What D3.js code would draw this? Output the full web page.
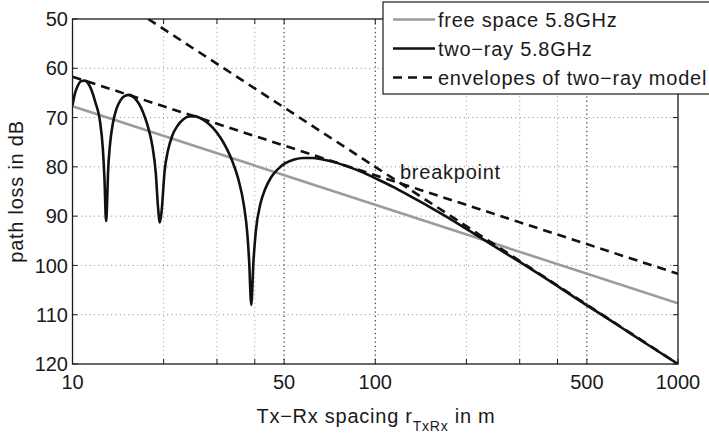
<!DOCTYPE html>
<html>
<head>
<meta charset="utf-8">
<script src="https://cdn.jsdelivr.net/npm/d3@7"></script>
<style>
  html, body { margin: 0; padding: 0; background: #fff; }
  svg { display: block; }
  text { font-family: "Liberation Sans", Arial, Helvetica, sans-serif; fill: #1a1a1a; }
  .wide { letter-spacing: 0.75px; }
</style>
</head>
<body>
<svg id="chart" width="709" height="436"></svg>
<script>
// ---- data ----
const xTicksMajor = [10, 50, 100, 500, 1000];
const xTicksMinor = [20, 30, 40, 200, 300, 400];
const yTicks = [50, 60, 70, 80, 90, 100, 110, 120];

const freeSpaceDist = [10, 1000];
const freeSpaceLoss = [67.7, 107.7];

const envUpperDist = [10, 1000];
const envUpperLoss = [61.7, 101.7];

const envLowerDist = [17.78, 1000];
const envLowerLoss = [50, 120];

const twoRayDist = [10, 10.2, 10.4, 10.7, 11.0, 11.3, 11.6, 11.9, 12.3, 12.6,
  12.75, 12.91, 13.0, 13.1, 13.3, 13.6, 14.0, 14.4, 14.9, 15.4,
  15.9, 16.5, 17.1, 17.7, 18.35, 18.85, 19.15, 19.43, 19.7, 20.15,
  20.65, 21.35, 22.2, 23.2, 24.2, 25.2, 26.2, 27.7, 29.2, 30.75,
  32.25, 33.75, 35.3, 36.8, 37.8, 38.3, 38.95, 39.6, 40.3, 41.8,
  43.3, 45.3, 47.8, 50, 54, 58, 62, 67, 73, 80,
  90, 100, 115, 130, 150, 175, 200, 250, 300, 400,
  500, 600, 700, 800, 1000];
const twoRayLoss = [67.5, 65.0, 63.6, 62.6, 62.5, 63.2, 64.7, 66.9, 70.4, 76.4,
  82.3, 91.0, 87.9, 81.4, 75.5, 71.1, 68.1, 66.5, 65.6, 65.4,
  65.8, 67.0, 68.9, 71.6, 75.7, 81.4, 87.9, 91.3, 88.9, 80.8,
  76.8, 73.7, 71.7, 70.4, 69.8, 69.7, 70.0, 70.9, 72.2, 74.0,
  76.2, 78.9, 82.5, 87.7, 93.6, 98.8, 108.0, 99.2, 93.2, 87.4,
  84.5, 82.1, 80.4, 79.4, 78.5, 78.2, 78.2, 78.5, 79.0, 79.8,
  81.0, 82.3, 84.1, 85.9, 88.0, 90.4, 92.6, 96.3, 99.3, 104.2,
  108.1, 111.2, 113.9, 116.2, 120.0];

const legendLabels = ["free space 5.8GHz", "two\u2212ray 5.8GHz", "envelopes of two\u2212ray model"];

// ---- layout ----
const L = 72.5, R = 678, T = 19, B = 364;
const svg = d3.select("#chart");
const x = d3.scaleLog().domain([10, 1000]).range([L, R]);
const y = d3.scaleLinear().domain([50, 120]).range([T, B]);

const zip = (a, b) => a.map((v, i) => [v, b[i]]);

svg.append("defs").append("clipPath").attr("id", "plotclip")
  .append("rect").attr("x", L).attr("y", T).attr("width", R - L).attr("height", B - T);

// grid
const grid = svg.append("g");
grid.selectAll(".hg").data(yTicks.slice(1, -1)).enter().append("line")
  .attr("x1", L).attr("x2", R).attr("y1", d => y(d)).attr("y2", d => y(d))
  .attr("stroke", "#8a8a8a").attr("stroke-width", 1).attr("stroke-dasharray", "1,3.3");
grid.selectAll(".vgm").data(xTicksMinor).enter().append("line")
  .attr("x1", d => x(d)).attr("x2", d => x(d)).attr("y1", T).attr("y2", B)
  .attr("stroke", "#9a9a9a").attr("stroke-width", 1).attr("stroke-dasharray", "1,3.3");
grid.selectAll(".vgM").data(xTicksMajor.slice(1, -1)).enter().append("line")
  .attr("x1", d => x(d)).attr("x2", d => x(d)).attr("y1", T).attr("y2", B)
  .attr("stroke", "#111").attr("stroke-width", 1).attr("stroke-dasharray", "1.3,3");

// lines
const plot = svg.append("g").attr("clip-path", "url(#plotclip)");
const straight = d3.line().x(d => x(d[0])).y(d => y(d[1]));
const smooth = d3.line().x(d => x(d[0])).y(d => y(d[1])).curve(d3.curveMonotoneX);

plot.append("path").datum(zip(freeSpaceDist, freeSpaceLoss)).attr("d", straight)
  .attr("fill", "none").attr("stroke", "#9b9b9b").attr("stroke-width", 2.6);
plot.append("path").datum(zip(envUpperDist, envUpperLoss)).attr("d", straight)
  .attr("fill", "none").attr("stroke", "#111").attr("stroke-width", 2.6).attr("stroke-dasharray", "9,6");
plot.append("path").datum(zip(envLowerDist, envLowerLoss)).attr("d", straight)
  .attr("fill", "none").attr("stroke", "#111").attr("stroke-width", 2.6).attr("stroke-dasharray", "9,6");
plot.append("path").datum(zip(twoRayDist, twoRayLoss)).attr("d", smooth)
  .attr("fill", "none").attr("stroke", "#111").attr("stroke-width", 2.6).attr("stroke-linejoin", "round");

// axes box
svg.append("rect").attr("x", L).attr("y", T).attr("width", R - L).attr("height", B - T)
  .attr("fill", "none").attr("stroke", "#1a1a1a").attr("stroke-width", 1.3);

// ticks
const tk = 5;
const allX = xTicksMajor.concat(xTicksMinor);
const ticks = svg.append("g").attr("stroke", "#1a1a1a").attr("stroke-width", 1);
ticks.selectAll(".xb").data(allX).enter().append("line")
  .attr("x1", d => x(d)).attr("x2", d => x(d)).attr("y1", B).attr("y2", B - tk);
ticks.selectAll(".xt").data(allX).enter().append("line")
  .attr("x1", d => x(d)).attr("x2", d => x(d)).attr("y1", T).attr("y2", T + tk);
ticks.selectAll(".yl").data(yTicks).enter().append("line")
  .attr("x1", L).attr("x2", L + tk).attr("y1", d => y(d)).attr("y2", d => y(d));
ticks.selectAll(".yr").data(yTicks).enter().append("line")
  .attr("x1", R).attr("x2", R - tk).attr("y1", d => y(d)).attr("y2", d => y(d));

// tick labels
svg.selectAll(".yl-t").data(yTicks).enter().append("text")
  .attr("x", 68).attr("y", d => y(d)).attr("dy", "0.36em")
  .attr("text-anchor", "end").attr("font-size", 20).text(d => d);
svg.selectAll(".xl-t").data(xTicksMajor).enter().append("text")
  .attr("x", d => x(d)).attr("y", 389)
  .attr("text-anchor", "middle").attr("font-size", 20).text(d => d);

// axis titles
const xt = svg.append("text").attr("class", "wide").attr("x", 376).attr("y", 423)
  .attr("text-anchor", "middle").attr("font-size", 20);
xt.append("tspan").text("Tx\u2212Rx spacing r");
xt.append("tspan").attr("font-size", 14).attr("dy", 8).text("TxRx");
xt.append("tspan").attr("dy", -8).text(" in m");

svg.append("text").attr("class", "wide")
  .attr("transform", "translate(23," + ((T + B) / 2) + ") rotate(-90)")
  .attr("text-anchor", "middle").attr("font-size", 20).text("path loss in dB");

// annotation
svg.append("text").attr("class", "wide").attr("x", 400).attr("y", 179)
  .attr("font-size", 20).text("breakpoint");

// legend
const lg = svg.append("g");
lg.append("rect").attr("x", 383).attr("y", 2).attr("width", 340).attr("height", 92)
  .attr("fill", "#fff").attr("stroke", "#1a1a1a").attr("stroke-width", 1.2);
const rowsY = [19.5, 48.5, 77.5];
const styles = [
  { stroke: "#9b9b9b", dash: null },
  { stroke: "#111", dash: null },
  { stroke: "#111", dash: "9,6" }
];
legendLabels.forEach((lab, i) => {
  lg.append("line").attr("x1", 393).attr("x2", 435).attr("y1", rowsY[i]).attr("y2", rowsY[i])
    .attr("stroke", styles[i].stroke).attr("stroke-width", 2.6)
    .attr("stroke-dasharray", styles[i].dash);
  lg.append("text").attr("class", "wide").attr("x", 438).attr("y", rowsY[i]).attr("dy", "0.36em")
    .attr("font-size", 20).text(lab);
});
</script>
</body>
</html>
